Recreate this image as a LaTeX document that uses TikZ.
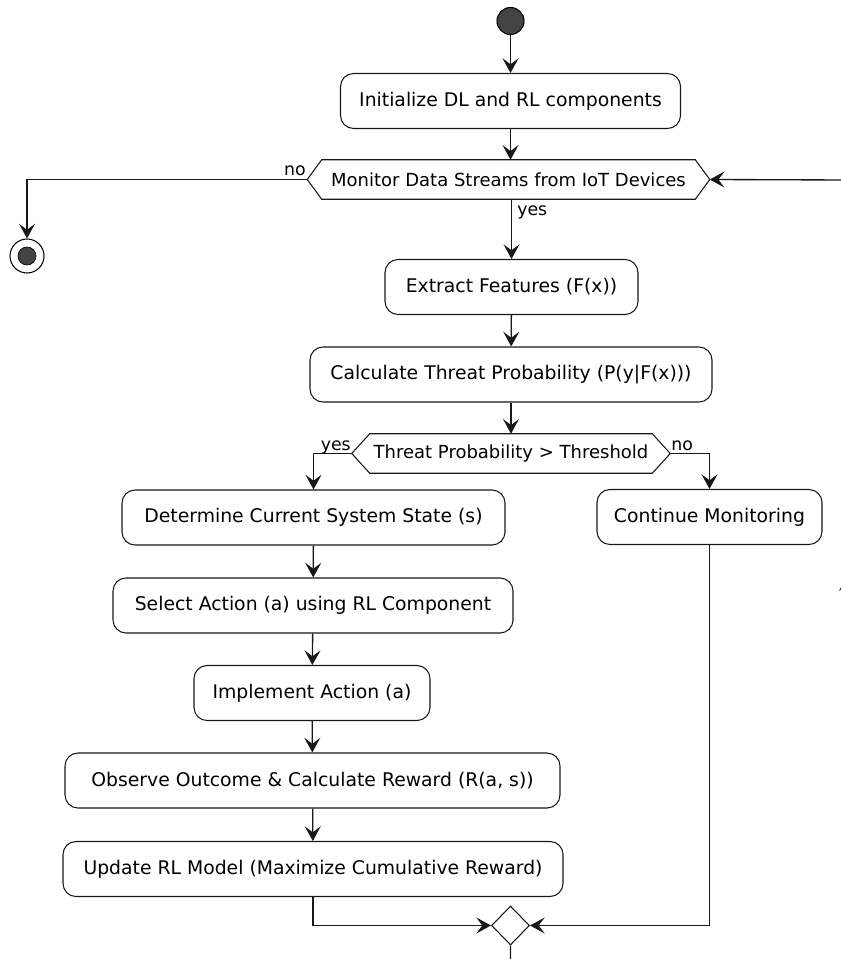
\documentclass[tikz,border=0pt]{standalone}
\usepackage{fontspec}
\setmainfont{DejaVu Sans}
\usetikzlibrary{arrows.meta,shapes.geometric,calc,decorations.markings}
\definecolor{ln}{HTML}{181818}
\definecolor{startfill}{HTML}{444444}
\begin{document}
\begin{tikzpicture}[x=0.75pt,y=-0.75pt,
  act/.style={draw=ln, line width=0.8pt, rounded corners=9.75pt, fill=white, minimum height=41.25pt, inner sep=0pt, font=\fontsize{14.1}{16}\selectfont, text=black},
  hexlabel/.style={inner sep=0pt, minimum height=29.25pt, font=\fontsize{13.5}{15}\selectfont, text=black},
  hexline/.style={draw=ln, line width=0.8pt},
  tip/.tip={Stealth[length=11pt,width=12pt,inset=4.5pt]},
  arr/.style={draw=ln, line width=1pt, -tip},
  lbl/.style={font=\fontsize{13}{15}\selectfont, inner sep=0pt, text=black},
]
\path[use as bounding box] (0,0) rectangle (841,959);
\clip (0,0) rectangle (841,959);

% start / end
\node[circle, draw=black, line width=0.8pt, fill=startfill, minimum size=20.25pt, inner sep=0pt] (start) at (510.5,21) {};
\node[circle, draw=black, line width=0.8pt, fill=white, minimum size=25.5pt, inner sep=0pt] (end) at (27,256) {};
\node[circle, fill=startfill, draw=black, line width=0.5pt, minimum size=13.5pt, inner sep=0pt] (endin) at (end.center) {};

% activities
\node[act, minimum width=255pt] (init) at (510.5,101) {Initialize DL and RL components};
\node[act, minimum width=189.75pt] (ext) at (511.5,287) {Extract Features (F(x))};
\node[act, minimum width=301.5pt] (calc) at (511,374.5) {Calculate Threat Probability (P(y|F(x)))};
\node[act, minimum width=287.25pt] (det) at (313.5,517.5) {Determine Current System State (s)};
\node[act, minimum width=300pt] (sel) at (313,605.5) {Select Action (a) using RL Component};
\node[act, minimum width=168.75pt] (cont) at (709.5,517) {Continue Monitoring};
\node[act, minimum width=177pt] (impl) at (312,693) {Implement Action (a)};
\node[act, minimum width=371.25pt] (obs) at (312.5,780.5) {Observe Outcome \& Calculate Reward (R(a, s))};
\node[act, minimum width=375pt] (upd) at (313,869) {Update RL Model (Maximize Cumulative Reward)};

% hexagon decisions
\node[hexlabel, minimum width=279.75pt] (mon) at (508.5,179.5) {Monitor Data Streams from IoT Devices};
\coordinate (monL) at ($(mon.west)+(-14.5,0)$);
\coordinate (monR) at ($(mon.east)+(14.5,0)$);
\draw[hexline] (mon.north west) -- (mon.north east) -- (monR) -- (mon.south east) -- (mon.south west) -- (monL) -- cycle;

\node[hexlabel, minimum width=211.5pt] (thr) at (511,453.5) {Threat Probability > Threshold};
\coordinate (thrL) at ($(thr.west)+(-18,0)$);
\coordinate (thrR) at ($(thr.east)+(18,0)$);
\draw[hexline] (thr.north west) -- (thr.north east) -- (thrR) -- (thr.south east) -- (thr.south west) -- (thrL) -- cycle;

% merge
\node[diamond, draw=ln, line width=0.8pt, fill=white, minimum width=28.5pt, minimum height=29.25pt, inner sep=0pt] (merge) at (510.5,925.5) {};

% connectors
\draw[arr] (start) -- (init);
\draw[arr] (init.south) -- (init.south |- mon.north);
\draw[arr] (monL) -| (end.north);
\draw[arr] (ext.north |- mon.south) -- (ext.north);
\draw[arr] (ext) -- (calc);
\draw[arr] (calc.south) -- (calc.south |- thr.north);
\draw[arr] (thrL) -| (det.north);
\draw[arr] (thrR) -| (cont.north);
\draw[arr] (det) -- (sel);
\draw[arr] (sel) -- (impl);
\draw[arr] (impl) -- (obs);
\draw[arr] (obs) -- (upd);
\draw[arr] (upd.south) |- (merge.west);
\draw[arr] (cont.south) |- (merge.east);
\draw[arr, postaction={decorate}, decoration={markings, mark=at position 581pt with {\arrow{tip}}}]
  (merge.south) -- (510.5,980) -- (847,980) -- (847,180) -- (monR);

% labels
\node[lbl, anchor=base east] (l1) at (306,176) {no};
\node[lbl, anchor=base west] (l2) at (517,215) {yes};
\node[lbl, anchor=base east] (l3) at (351,450) {yes};
\node[lbl, anchor=base west] (l4) at (671,450) {no};
\end{tikzpicture}
\end{document}
